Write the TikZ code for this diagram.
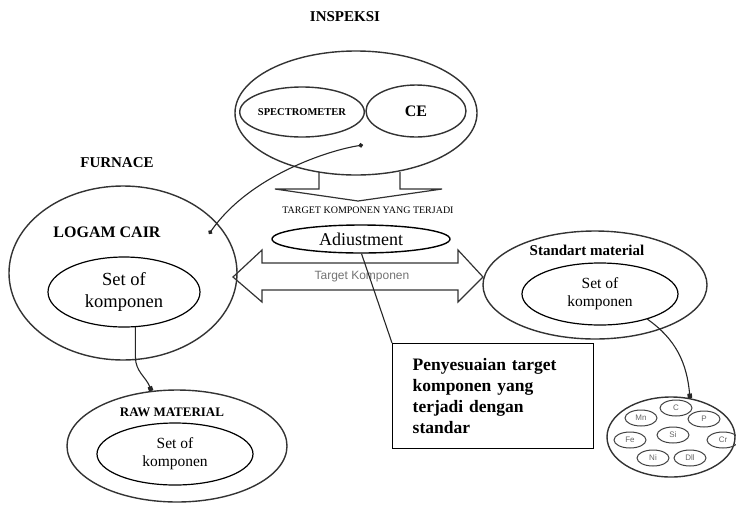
\documentclass[tikz,border=0pt]{standalone}
\usepackage{fontspec}
\setmainfont{Liberation Serif}
\newfontfamily\arialfont{Liberation Sans}
\usetikzlibrary{shapes.geometric,arrows.meta}

\tikzset{
  blob/.style={draw=black!80, line width=1.4pt, ellipse, inner sep=0pt},
  setbox/.style={draw, line width=1.2pt, ellipse, inner sep=0pt, align=center,
    minimum width=156pt, minimum height=62pt, font=\fontsize{15.5}{18}\selectfont},
  elem/.style={draw=black!75, line width=1pt, ellipse, inner sep=0pt,
    minimum width=32pt, minimum height=16pt, text=black!60,
    font=\arialfont\fontsize{8}{9}\selectfont},
  title/.style={font=\bfseries\fontsize{15}{18}\selectfont},
  link/.style={line width=1.1pt, black!85},
}

\begin{document}
\begin{tikzpicture}[x=1pt, y=-1pt]
\useasboundingbox (0,0) rectangle (736,504);

% inspeksi
\node[title] (insplbl) at (345,17) {INSPEKSI};
\node[blob, minimum width=242pt, minimum height=124pt] (insp) at (356,113) {};
\node[blob, minimum width=120pt, minimum height=50pt,
  font=\bfseries\fontsize{10.5}{12}\selectfont] (spectro) at (302,112) {SPECTROMETER};
\node[blob, minimum width=100pt, minimum height=52pt,
  font=\bfseries\fontsize{16}{18}\selectfont] (ce) at (416,111) {CE};
\coordinate (inspdot) at (363,145);

% arrow down to the target
\draw[line width=1.2pt, black!80] (319,172) -- (319,189) -- (275,189) -- (358,201)
  -- (442,189) -- (400,189) -- (400,172);
\node[font=\fontsize{10}{12}\selectfont] (target) at (368,210) {TARGET KOMPONEN YANG TERJADI};

% double arrow
\draw[line width=1.2pt, black!80] (233,277) -- (262,250) -- (262,263) -- (458,263)
  -- (458,250) -- (483,277) -- (458,302) -- (458,290) -- (262,290) -- (262,302) -- cycle;
\node[text=black!55, font=\arialfont\fontsize{12}{14}\selectfont] (tkomp) at (362,277) {Target Komponen};
\node[blob, draw=black, fill=white, minimum width=178pt, minimum height=28pt,
  font=\fontsize{18}{20}\selectfont] (adj) at (361,239) {Adiustment};

% furnace
\node[title] (furnlbl) at (117,163) {FURNACE};
\node[blob, minimum width=228pt, minimum height=174pt] (furnace) at (123,273) {};
\node[title, font=\bfseries\fontsize{16}{18}\selectfont] (logam) at (107,232) {LOGAM CAIR};
\coordinate (furndot) at (209,234);
\node[setbox, minimum width=152pt, minimum height=70pt,
  font=\fontsize{18.5}{22}\selectfont] (setA) at (124,292) {Set of\\komponen};

% raw material
\node[blob, minimum width=220pt, minimum height=112pt] (raw) at (177,446) {};
\node[title, font=\bfseries\fontsize{13}{15}\selectfont] (rawlbl) at (172,412) {RAW MATERIAL};
\node[setbox] (setB) at (175,454) {Set of\\komponen};

% standart material
\node[blob, minimum width=224pt, minimum height=108pt] (std) at (595,285) {};
\node[title] (stdlbl) at (587,250) {Standart material};
\node[setbox] (setC) at (600,294) {Set of\\komponen};

% komposisi
\node[blob, minimum width=128pt, minimum height=80pt] (comp) at (671,437) {};
\node[elem] (eC) at (676,408) {C};
\node[elem] (eMn) at (641,418) {Mn};
\node[elem] (eP) at (704,419) {P};
\node[elem] (eSi) at (673,435) {Si};
\node[elem] (eFe) at (630,440) {Fe};
\node[elem] (eCr) at (723,440) {Cr};
\node[elem] (eNi) at (653,458) {Ni};
\node[elem] (eDll) at (690,458) {Dll};

% penyesuaian
\node[draw, line width=1.4pt, text width=161pt, inner xsep=20pt, minimum height=105pt,
  align=left, anchor=north west, font=\bfseries\fontsize{17.5}{21}\selectfont] (box) at (392,343)
  {Penyesuaian target\\komponen yang\\terjadi dengan\\standar};

% links
\draw[link, {Circle[length=4.5pt]}-{Circle[length=4.5pt]}] (inspdot) .. controls (330,150) and (250,175) .. (furndot);
\draw[link, -{Square[length=4.5pt]}] (setA.-72) -- ++(0,30) to[out=-90,in=110] (raw.115);
\draw[link, -{Square[length=4.5pt]}] (setC.-28) to[out=-35,in=95] (comp.64);
\draw[link] (adj.-88) -- (box.north west);
\end{tikzpicture}
\end{document}
